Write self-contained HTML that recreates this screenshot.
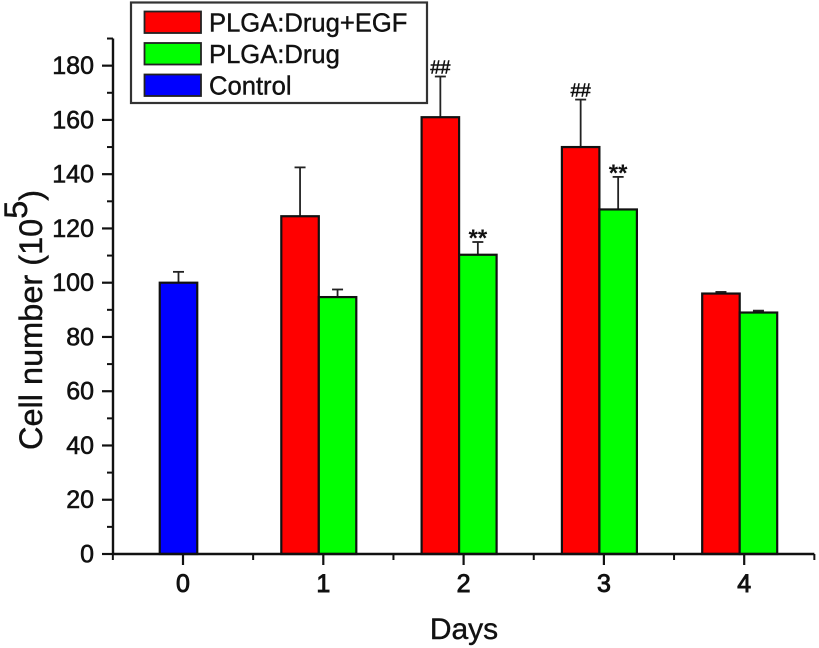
<!DOCTYPE html>
<html lang="en">
<head>
<meta charset="utf-8">
<title>Cell number by day</title>
<style>
html,body{margin:0;padding:0;background:#fff;}
svg{display:block;filter:blur(.35px);}
text{font-family:"Liberation Sans",Arial,sans-serif;fill:#111;}
.tick{font-size:25px;stroke:#111;stroke-width:.6px;}
.xtick{font-size:25px;stroke:#111;stroke-width:.9px;}
.leg{font-size:25.6px;stroke:#111;stroke-width:.4px;}
</style>
</head>
<body>
<svg id="chart" xmlns="http://www.w3.org/2000/svg" width="819" height="648" viewBox="0 0 819 648"></svg>
<script>
const categories = [0, 1, 2, 3, 4];
const controlValues = [100, null, null, null, null];
const controlErrors = [104, null, null, null, null];
const egfValues = [null, 124.5, 161, 150, 96];
const egfErrors = [null, 142.5, 176, 167.5, 96.6];
const drugValues = [null, 94.7, 110.3, 127, 89];
const drugErrors = [null, 97.5, 115, 139, 89.7];
const egfMarks = ['', '', '##', '##', ''];
const drugMarks = ['', '', '**', '**', ''];
const yTicks = [0, 20, 40, 60, 80, 100, 120, 140, 160, 180];
const yMinorTicks = [10, 30, 50, 70, 90, 110, 130, 150, 170, 190];
const xMinorTicks = [-0.5, 0.5, 1.5, 2.5, 3.5, 4.5];
const legendLabels = ['PLGA:Drug+EGF', 'PLGA:Drug', 'Control'];
const legendColors = ['#ff0000', '#00ff00', '#0000ff'];

const svg = document.getElementById('chart');
const NS = 'http://www.w3.org/2000/svg';
const xAxis = v => 183 + (v - 0) * 140.3;
const yAxis = v => 554 - v * 2.713;
const BAR_W = 37.5;
const BAR_SHIFT = -4.5;

function add(tag, attrs, text) {
  const el = document.createElementNS(NS, tag);
  for (const k in attrs) el.setAttribute(k, attrs[k]);
  if (text !== undefined) el.textContent = text;
  svg.appendChild(el);
  return el;
}
function line(x1, y1, x2, y2, w, color) {
  return add('line', {x1, y1, x2, y2, stroke: color || '#111', 'stroke-width': w});
}
function drawBar(center, value, errTop, color, name) {
  const top = yAxis(value);
  const bottom = yAxis(0);
  const cx = center + BAR_W / 2;
  const stem = line(cx, yAxis(errTop), cx, top, 1.8, '#222');
  
  
  const cap = line(cx - 5.5, yAxis(errTop), cx + 5.5, yAxis(errTop), 1.8, '#222');
  
  
  const r = add('rect', {x: center, y: top, width: BAR_W, height: bottom - top, fill: color, stroke: '#111', 'stroke-width': 2.2});
  
  
}

categories.forEach((c, i) => {
  const tickX = xAxis(c) + BAR_SHIFT;
  if (controlValues[i] !== null) {
    drawBar(tickX - BAR_W / 2, controlValues[i], controlErrors[i], '#0000ff', 'bar-control-day-' + c);
  }
  if (egfValues[i] !== null) {
    drawBar(tickX - BAR_W, egfValues[i], egfErrors[i], '#ff0000', 'bar-egf-day-' + c);
    if (egfMarks[i]) {
      const m = add('text', {x: tickX - BAR_W / 2, y: yAxis(egfErrors[i]) - 3, 'text-anchor': 'middle', 'font-size': 18, stroke: '#111', 'stroke-width': 0.6}, egfMarks[i]);
      
      
    }
  }
  if (drugValues[i] !== null) {
    drawBar(tickX, drugValues[i], drugErrors[i], '#00ff00', 'bar-drug-day-' + c);
    if (drugMarks[i]) {
      const m = add('text', {x: tickX + BAR_W / 2, y: yAxis(drugErrors[i]) + 4, 'text-anchor': 'middle', 'font-size': 24, 'font-weight': 'bold'}, drugMarks[i]);
      
      
    }
  }
});

const yLine = line(113, yAxis(0) + 1, 113, yAxis(190), 2.4);


const xLine = line(xAxis(-0.5), yAxis(0), xAxis(4.5), yAxis(0), 2.4);



yTicks.forEach(v => {
  const t = line(102, yAxis(v), 113, yAxis(v), 2.2);
  
  
  const l = add('text', {x: 94, y: yAxis(v) + 8.5, 'text-anchor': 'end', class: 'tick'}, v);
  
  
});
yMinorTicks.forEach(v => {
  const t = line(107, yAxis(v), 113, yAxis(v), 2);
  
  
});
categories.forEach(c => {
  const t = line(xAxis(c), yAxis(0), xAxis(c), 565, 2.2);
  
  
  const l = add('text', {x: xAxis(c), y: 592, 'text-anchor': 'middle', class: 'xtick'}, c);
  
  
});
xMinorTicks.forEach(v => {
  const t = line(xAxis(v), yAxis(0), xAxis(v), 560, 2);
  
  
});

const xTitle = add('text', {x: 464, y: 639, 'text-anchor': 'middle', 'font-size': 30, stroke: '#111', 'stroke-width': 0.4}, 'Days');



const yTitle = add('text', {transform: 'translate(42,450) rotate(-90)', 'font-size': 32.5, stroke: '#111', 'stroke-width': 0.4});


const ySpan1 = document.createElementNS(NS, 'tspan');
ySpan1.textContent = 'Cell number (10';
yTitle.appendChild(ySpan1);
const ySpan2 = document.createElementNS(NS, 'tspan');
ySpan2.setAttribute('dy', '-15');
ySpan2.textContent = '5';
yTitle.appendChild(ySpan2);
const ySpan3 = document.createElementNS(NS, 'tspan');
ySpan3.setAttribute('dy', '15');
ySpan3.textContent = ')';
yTitle.appendChild(ySpan3);

const box = add('rect', {x: 131, y: 2.5, width: 296, height: 100.5, fill: '#fff', stroke: '#333', 'stroke-width': 2.2});


legendLabels.forEach((label, i) => {
  const sy = 11.5 + i * 31.5;
  const s = add('rect', {x: 144.5, y: sy, width: 56.5, height: 21.5, fill: legendColors[i], stroke: '#222', 'stroke-width': 1.8});
  
  
  const t = add('text', {x: 209, y: sy + 20, class: 'leg'}, label);
  
  
});
</script>
</body>
</html>
